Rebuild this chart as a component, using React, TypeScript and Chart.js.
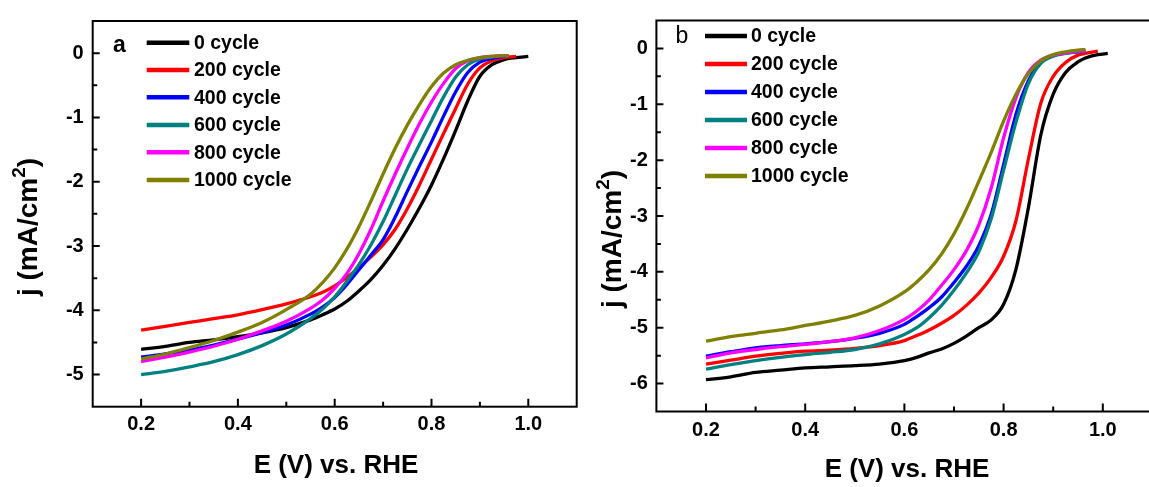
import React, { useEffect, useRef } from "react";
import { Chart, registerables } from "chart.js";

Chart.register(...registerables);

const FONT = '"Liberation Sans", Arial, Helvetica, sans-serif';

// ---------- shared labels / styles ----------
const seriesLabels = ["0 cycle", "200 cycle", "400 cycle", "600 cycle", "800 cycle", "1000 cycle"];
const seriesColors = ["#000000", "#ff0000", "#0000ff", "#008080", "#ff00ff", "#808000"];

const xTickValues = [0.2, 0.4, 0.6, 0.8, 1.0];
const xMinorTickValues = [0.3, 0.5, 0.7, 0.9];
const yTickValuesA = [0, -1, -2, -3, -4, -5];
const yMinorTickValuesA = [-0.5, -1.5, -2.5, -3.5, -4.5];
const yTickValuesB = [0, -1, -2, -3, -4, -5, -6];
const yMinorTickValuesB = [-0.5, -1.5, -2.5, -3.5, -4.5, -5.5];

const xAxisTitle = "E (V) vs. RHE";

// ---------- panel a data ----------
const potentialA = [0.20, 0.25, 0.30, 0.35, 0.40, 0.45, 0.50, 0.55, 0.575, 0.60, 0.625, 0.65, 0.675, 0.70, 0.725, 0.75, 0.775, 0.80, 0.825, 0.85, 0.875, 0.90, 0.925, 0.95, 0.96, 0.975, 1.00];
const jA_0 = [-4.61, -4.56, -4.50, -4.46, -4.41, -4.35, -4.27, -4.15, -4.07, -3.98, -3.86, -3.70, -3.52, -3.30, -3.04, -2.74, -2.41, -2.05, -1.64, -1.20, -0.74, -0.36, -0.18, -0.10, -0.08, -0.07, -0.05];
const jA_200 = [-4.31, -4.25, -4.19, -4.13, -4.07, -3.99, -3.90, -3.79, -3.72, -3.62, -3.49, -3.34, -3.17, -2.98, -2.74, -2.42, -2.05, -1.65, -1.25, -0.86, -0.48, -0.23, -0.12, -0.07, -0.06, -0.05, null];
const jA_400 = [-4.73, -4.68, -4.62, -4.54, -4.45, -4.35, -4.23, -4.06, -3.95, -3.80, -3.60, -3.37, -3.14, -2.90, -2.55, -2.15, -1.76, -1.38, -0.98, -0.60, -0.30, -0.14, -0.08, -0.05, -0.04, null, null];
const jA_600 = [-5.00, -4.95, -4.88, -4.80, -4.69, -4.55, -4.37, -4.13, -3.98, -3.79, -3.55, -3.29, -2.98, -2.62, -2.21, -1.80, -1.42, -1.05, -0.68, -0.37, -0.18, -0.09, -0.06, -0.04, -0.04, null, null];
const jA_800 = [-4.80, -4.73, -4.65, -4.56, -4.45, -4.32, -4.17, -3.97, -3.84, -3.66, -3.43, -3.12, -2.74, -2.30, -1.88, -1.48, -1.10, -0.76, -0.47, -0.24, -0.12, -0.07, -0.05, -0.04, -0.04, null, null];
const jA_1000 = [-4.76, -4.68, -4.58, -4.47, -4.34, -4.19, -3.99, -3.75, -3.57, -3.34, -3.05, -2.70, -2.30, -1.88, -1.48, -1.12, -0.80, -0.52, -0.31, -0.18, -0.11, -0.07, -0.05, -0.04, -0.04, null, null];

// ---------- panel b data ----------
const potentialB = [0.20, 0.25, 0.30, 0.35, 0.40, 0.45, 0.50, 0.55, 0.60, 0.625, 0.65, 0.675, 0.70, 0.725, 0.75, 0.775, 0.80, 0.825, 0.85, 0.875, 0.90, 0.925, 0.95, 0.965, 0.99, 1.01];
const jB_0 = [-5.93, -5.88, -5.80, -5.76, -5.72, -5.70, -5.68, -5.65, -5.59, -5.53, -5.45, -5.38, -5.28, -5.15, -5.00, -4.86, -4.58, -3.95, -2.85, -1.55, -0.82, -0.43, -0.24, -0.17, -0.11, -0.09];
const jB_200 = [-5.65, -5.58, -5.51, -5.46, -5.42, -5.40, -5.37, -5.32, -5.23, -5.14, -5.04, -4.92, -4.78, -4.60, -4.38, -4.10, -3.72, -3.08, -1.98, -0.98, -0.50, -0.25, -0.12, -0.09, -0.05, null];
const jB_400 = [-5.51, -5.43, -5.36, -5.32, -5.29, -5.25, -5.19, -5.10, -4.94, -4.80, -4.64, -4.45, -4.19, -3.90, -3.53, -2.97, -2.08, -1.18, -0.58, -0.24, -0.13, -0.08, -0.06, -0.05, null, null];
const jB_600 = [-5.74, -5.66, -5.59, -5.53, -5.48, -5.44, -5.39, -5.29, -5.12, -5.00, -4.82, -4.60, -4.33, -4.02, -3.64, -3.05, -2.18, -1.32, -0.63, -0.27, -0.14, -0.09, -0.06, -0.05, null, null];
const jB_800 = [-5.54, -5.45, -5.39, -5.34, -5.30, -5.25, -5.18, -5.05, -4.85, -4.70, -4.50, -4.24, -3.96, -3.62, -3.16, -2.50, -1.60, -0.88, -0.43, -0.21, -0.12, -0.08, -0.05, -0.04, null, null];
const jB_1000 = [-5.24, -5.16, -5.10, -5.04, -4.96, -4.88, -4.78, -4.61, -4.36, -4.18, -3.96, -3.68, -3.32, -2.88, -2.38, -1.86, -1.30, -0.82, -0.45, -0.22, -0.11, -0.06, -0.03, -0.02, null, null];

type PanelCfg = {
  width: number;
  height: number;
  potential: number[];
  series: (number | null)[][];
  yMin: number;
  yMax: number;
  yMajor: number[];
  yMinor: number[];
  padRight: number;
  padTop: number;
  yAxisWidth: number;
  xAxisHeight: number;
  xLabelPad: number;
  yLabelPad: number;
  panelLabel: string;
  panelLabelFont: string;
  panelLabelX: number;
  panelLabelY: number;
  legendX0: number;
  legendX1: number;
  legendTextX: number;
  legendRows: number[];
  yTitleX: number;
  yTitleY: number;
  xTitleX: number;
  xTitleY: number;
};

function drawYTitle(ctx: CanvasRenderingContext2D, cx: number, cy: number, size: number) {
  ctx.save();
  ctx.translate(cx, cy);
  ctx.rotate(-Math.PI / 2);
  const mainFont = `bold ${size}px ${FONT}`;
  const supFont = `bold ${Math.round(size * 0.68)}px ${FONT}`;
  ctx.font = mainFont;
  const p1 = "j (mA/cm";
  const p3 = ")";
  const w1 = ctx.measureText(p1).width;
  const w3 = ctx.measureText(p3).width;
  ctx.font = supFont;
  const w2 = ctx.measureText("2").width;
  const total = w1 + w2 + w3;
  let x = -total / 2;
  ctx.fillStyle = "#000";
  ctx.textBaseline = "alphabetic";
  ctx.textAlign = "left";
  const base = size * 0.36;
  ctx.font = mainFont;
  ctx.fillText(p1, x, base);
  x += w1;
  ctx.font = supFont;
  ctx.fillText("2", x, base - size * 0.42);
  x += w2;
  ctx.font = mainFont;
  ctx.fillText(p3, x, base);
  ctx.restore();
}

function makeDecor(cfg: PanelCfg) {
  return {
    id: "decor",
    afterDraw(chart: any) {
      const ctx: CanvasRenderingContext2D = chart.ctx;
      const area = chart.chartArea;
      const xs = chart.scales.x;
      const ys = chart.scales.y;
      ctx.save();
      ctx.strokeStyle = "#000";
      ctx.lineWidth = 2;
      ctx.strokeRect(area.left, area.top, area.right - area.left, area.bottom - area.top);
      // inward ticks
      ctx.beginPath();
      const tick = (v: number, len: number, axis: "x" | "y") => {
        if (axis === "x") {
          const px = xs.getPixelForValue(v);
          ctx.moveTo(px, area.bottom);
          ctx.lineTo(px, area.bottom - len);
        } else {
          const py = ys.getPixelForValue(v);
          ctx.moveTo(area.left, py);
          ctx.lineTo(area.left + len, py);
        }
      };
      xTickValues.forEach((v) => tick(v, 8, "x"));
      xMinorTickValues.forEach((v) => tick(v, 5, "x"));
      cfg.yMajor.forEach((v) => tick(v, 7, "y"));
      cfg.yMinor.forEach((v) => tick(v, 4.5, "y"));
      ctx.stroke();

      // panel label
      ctx.fillStyle = "#000";
      ctx.font = cfg.panelLabelFont;
      ctx.textAlign = "center";
      ctx.textBaseline = "middle";
      ctx.fillText(cfg.panelLabel, cfg.panelLabelX, cfg.panelLabelY);

      // legend
      ctx.lineWidth = 4.5;
      ctx.font = `bold 19.5px ${FONT}`;
      ctx.textAlign = "left";
      seriesLabels.forEach((lab, i) => {
        const y = cfg.legendRows[i];
        ctx.strokeStyle = seriesColors[i];
        ctx.beginPath();
        ctx.moveTo(cfg.legendX0, y);
        ctx.lineTo(cfg.legendX1, y);
        ctx.stroke();
        ctx.fillStyle = "#000";
        ctx.fillText(lab, cfg.legendTextX, y + 1);
      });

      // axis titles
      ctx.font = `bold 26px ${FONT}`;
      ctx.textAlign = "center";
      ctx.textBaseline = "middle";
      ctx.fillText(xAxisTitle, cfg.xTitleX, cfg.xTitleY);
      drawYTitle(ctx, cfg.yTitleX, cfg.yTitleY, 28);
      ctx.restore();
    },
  };
}

function Panel({ cfg, left }: { cfg: PanelCfg; left: number }) {
  const ref = useRef<HTMLCanvasElement | null>(null);
  useEffect(() => {
    if (!ref.current) return;
    const datasets = cfg.series.map((vals, i) => ({
      label: seriesLabels[i],
      data: cfg.potential
        .map((x, k) => (vals[k] === null ? null : { x, y: vals[k] as number }))
        .filter((p) => p !== null),
      borderColor: seriesColors[i],
      backgroundColor: seriesColors[i],
      borderWidth: 3.3,
      pointRadius: 0,
      fill: false,
      cubicInterpolationMode: "monotone" as const,
      order: cfg.series.length - i,
    }));
    const chart = new Chart(ref.current, {
      type: "line",
      data: { datasets },
      options: {
        animation: false,
        responsive: false,
        devicePixelRatio: 1,
        layout: { padding: { left: 0, right: cfg.padRight, top: cfg.padTop, bottom: 0 } },
        plugins: { legend: { display: false }, tooltip: { enabled: false } },
        scales: {
          x: {
            type: "linear",
            position: "bottom",
            min: 0.1,
            max: 1.1,
            grid: { display: false, drawTicks: false, tickLength: 0 },
            border: { display: false },
            afterBuildTicks: (scale: any) => {
              scale.ticks = xTickValues.map((v) => ({ value: v }));
            },
            afterFit: (scale: any) => {
              scale.height = cfg.xAxisHeight;
            },
            ticks: {
              autoSkip: false,
              maxRotation: 0,
              padding: cfg.xLabelPad,
              color: "#000",
              font: { family: FONT, size: 20, weight: "bold" },
              callback: (v: any) => Number(v).toFixed(1),
            },
          },
          y: {
            type: "linear",
            position: "left",
            min: cfg.yMin,
            max: cfg.yMax,
            grid: { display: false, drawTicks: false, tickLength: 0 },
            border: { display: false },
            afterBuildTicks: (scale: any) => {
              scale.ticks = cfg.yMajor.map((v) => ({ value: v }));
            },
            afterFit: (scale: any) => {
              scale.width = cfg.yAxisWidth;
            },
            ticks: {
              autoSkip: false,
              padding: cfg.yLabelPad,
              color: "#000",
              font: { family: FONT, size: 20, weight: "bold" },
              callback: (v: any) => String(Number(v)),
            },
          },
        },
      },
      plugins: [makeDecor(cfg)],
    } as any);
    return () => chart.destroy();
  }, [cfg]);
  return (
    <canvas
      ref={ref}
      width={cfg.width}
      height={cfg.height}
      style={{ position: "absolute", left, top: 0, width: cfg.width, height: cfg.height }}
    />
  );
}

const panelA: PanelCfg = {
  width: 590,
  height: 487,
  potential: potentialA,
  series: [jA_0, jA_200, jA_400, jA_600, jA_800, jA_1000],
  yMin: -5.5,
  yMax: 0.5,
  yMajor: yTickValuesA,
  yMinor: yMinorTickValuesA,
  padRight: 13.3,
  padTop: 16.7,
  yAxisWidth: 92.7,
  xAxisHeight: 80.3,
  xLabelPad: 6,
  yLabelPad: 9,
  panelLabel: "a",
  panelLabelFont: `bold 23px ${FONT}`,
  panelLabelX: 119.5,
  panelLabelY: 46,
  legendX0: 146.7,
  legendX1: 189.3,
  legendTextX: 194,
  legendRows: [42.7, 70, 97.3, 125, 152.3, 180],
  yTitleX: 27,
  yTitleY: 227,
  xTitleX: 336,
  xTitleY: 466,
};

const panelB: PanelCfg = {
  width: 580,
  height: 487,
  potential: potentialB,
  series: [jB_0, jB_200, jB_400, jB_600, jB_800, jB_1000],
  yMin: -6.5,
  yMax: 0.5,
  yMajor: yTickValuesB,
  yMinor: yMinorTickValuesB,
  padRight: 17.6,
  padTop: 12,
  yAxisWidth: 66.4,
  xAxisHeight: 75.5,
  xLabelPad: 7,
  yLabelPad: 8.5,
  panelLabel: "b",
  panelLabelFont: `23px ${FONT}`,
  panelLabelX: 92,
  panelLabelY: 37,
  legendX0: 115,
  legendX1: 157,
  legendTextX: 161,
  legendRows: [36, 64, 92, 120, 148, 176],
  yTitleX: 21,
  yTitleY: 239,
  xTitleX: 317,
  xTitleY: 470,
};

export default function App() {
  return (
    <div
      style={{
        position: "absolute",
        left: 0,
        top: 0,
        width: 1149,
        height: 487,
        overflow: "hidden",
        background: "#fff",
      }}
    >
      <Panel cfg={panelA} left={0} />
      <Panel cfg={panelB} left={590} />
    </div>
  );
}
